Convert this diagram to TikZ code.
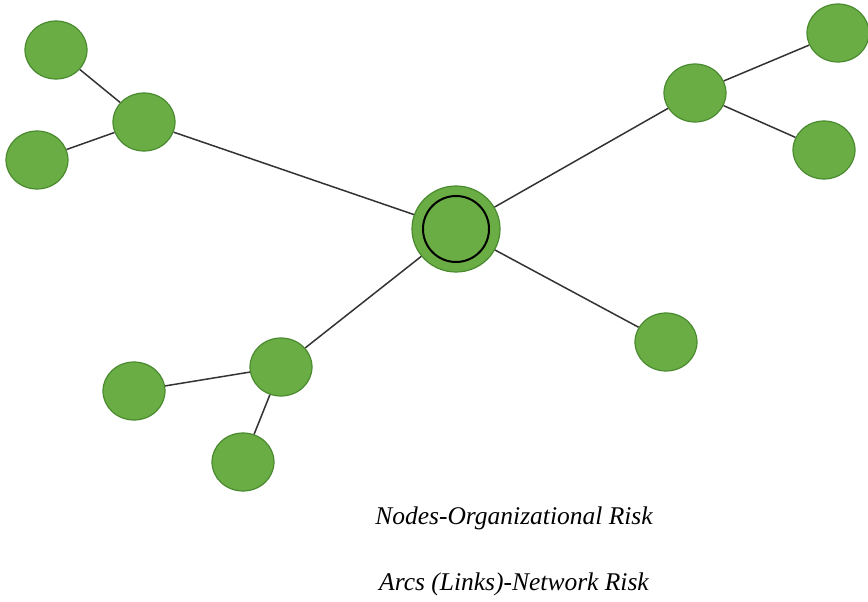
\documentclass[tikz,border=0pt]{standalone}
\usepackage{fontspec}
\setmainfont{Liberation Serif}
\usetikzlibrary{shapes.geometric}
\definecolor{nodegreen}{HTML}{6AAD45}
\definecolor{nodeedge}{HTML}{4A8A2E}
\begin{document}
\begin{tikzpicture}[x=1pt,y=-1pt,
  leaf/.style={ellipse,draw=nodeedge,line width=1.2pt,fill=nodegreen,minimum width=62pt,minimum height=58pt,inner sep=0pt},
  hub/.style={ellipse,draw=nodeedge,line width=1.2pt,fill=nodegreen,minimum width=88pt,minimum height=86pt,inner sep=0pt},
  link/.style={draw=black!80,line width=1.5pt},
  caption/.style={font=\itshape\fontsize{25.5}{30}\selectfont,inner sep=0pt}]
\useasboundingbox (0,0) rectangle (868,602);
\node[hub] (c) at (456,229) {};
\node[circle,draw=black,line width=2pt,minimum size=66pt,inner sep=0pt] (ci) at (456,229) {};
\node[leaf] (a) at (144,122) {};
\node[leaf] (a1) at (56,50) {};
\node[leaf] (a2) at (37,160) {};
\node[leaf] (b) at (695,93) {};
\node[leaf] (b1) at (838,33) {};
\node[leaf] (b2) at (824,150) {};
\node[leaf] (cc) at (666,342) {};
\node[leaf] (d) at (281,367) {};
\node[leaf] (d1) at (134,391) {};
\node[leaf] (d2) at (243,462) {};
\draw[link] (c) -- (a);
\draw[link] (a) -- (a1);
\draw[link] (a) -- (a2);
\draw[link] (c) -- (b);
\draw[link] (b) -- (b1);
\draw[link] (b) -- (b2);
\draw[link] (c) -- (cc);
\draw[link] (c) -- (d);
\draw[link] (d) -- (d1);
\draw[link] (d) -- (d2);
\node[caption] (t1) at (514,518) {Nodes-Organizational Risk};
\node[caption] (t2) at (514,584) {Arcs (Links)-Network Risk};
\end{tikzpicture}
\end{document}
